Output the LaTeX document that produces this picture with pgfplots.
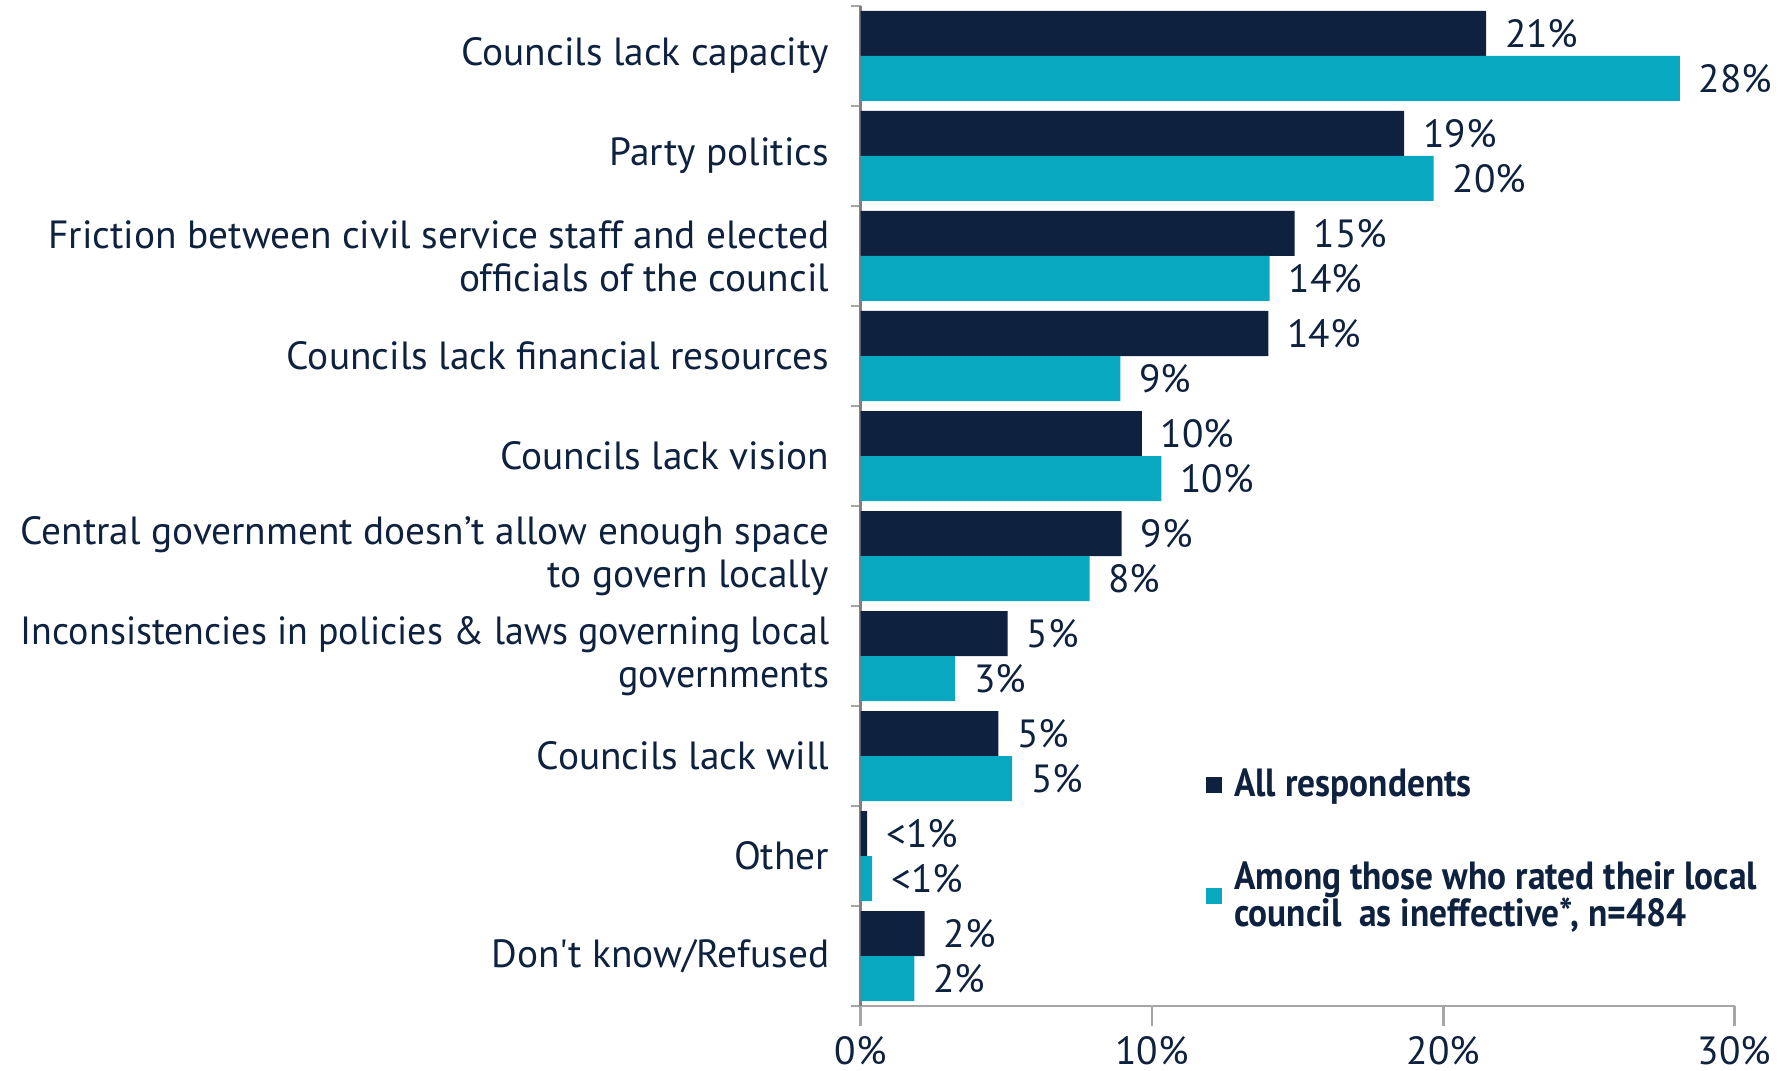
\documentclass[border=0pt]{standalone}
\usepackage{fontspec}
\setmainfont{PT Sans}
\newfontfamily\legfont[FakeStretch=0.9]{PT Sans}
\newfontfamily\narrowfont[FakeStretch=0.965]{PT Sans}
\usepackage{pgfplots}
\pgfplotsset{compat=1.18}
\usetikzlibrary{calc}
\definecolor{navy}{RGB}{14,34,64}
\definecolor{tealc}{RGB}{8,168,193}
\definecolor{axgray}{RGB}{166,166,166}
\definecolor{axdark}{RGB}{128,128,128}
\newcommand\lbl{\fontsize{11.8pt}{13pt}\selectfont}
\begin{document}
\begin{tikzpicture}[font=\lbl]
\begin{axis}[
  scale only axis, width=262.2pt, height=300pt,
  xbar, bar width=13.5pt,
  xmin=0, xmax=30, ymin=-0.5, ymax=9.5,
  clip=false,
  axis x line*=bottom, axis y line*=left,
  x axis line style={axgray, line width=0.8pt},
  y axis line style={axdark, line width=0.8pt},
  tick align=outside,
  xtick={0,10,20,30}, xticklabels={0\%,10\%,20\%,30\%},
  major x tick style={axgray, line width=0.8pt},
  major tick length=6pt,
  ytick={0,...,9},
  major y tick style={draw=none},
  minor ytick={-0.5,0.5,...,9.5},
  minor y tick style={axgray, line width=0.8pt},
  minor tick length=3pt,
  yticklabel style={align=right, text=navy, inner sep=0pt, xshift=-3.2pt, font=\lbl},
  xticklabel style={text=navy, inner sep=0pt, yshift=-2.8pt, font=\lbl},
  yticklabels={
    {Don\textquotesingle t know/Refused},
    {Other},
    {Councils lack will},
    {\narrowfont Inconsistencies in policies \& laws governing local\\\narrowfont governments},
    {Central government doesn’t allow enough space\\to govern locally},
    {Councils lack vision},
    {Councils lack financial resources},
    {Friction between civil service staff and elected\\officials of the council},
    {Party politics},
    {Councils lack capacity}},
  nodes near coords={\pgfplotspointmeta},
  point meta=explicit symbolic,
  every node near coord/.append style={text=navy, anchor=west, inner sep=0pt, xshift=5.5pt, font=\lbl},
  legend style={at={(rel axis cs:0.395,0.245)}, anchor=north west, draw=none, fill=none,
    inner sep=0pt, row sep=14pt, column sep=1.5pt,
    font=\legfont\fontsize{11.8pt}{11.3pt}\selectfont\bfseries, text=navy,
    cells={anchor=west, align=left}},
  legend image code/.code={\fill[#1] (0pt,-2.4pt) rectangle (4.8pt,2.4pt);},
]
\addplot[fill=navy, draw=none, bar shift=6.75pt] coordinates {
  (2.2,0) [2\%]
  (0.23,1) [<1\%]
  (4.73,2) [5\%]
  (5.05,3) [5\%]
  (8.96,4) [9\%]
  (9.66,5) [10\%]
  (14.0,6) [14\%]
  (14.9,7) [15\%]
  (18.66,8) [19\%]
  (21.47,9) [21\%]
};
\addlegendentry{All respondents}
\addplot[fill=tealc, draw=none, bar shift=-6.75pt] coordinates {
  (1.85,0) [2\%]
  (0.4,1) [<1\%]
  (5.2,2) [5\%]
  (3.25,3) [3\%]
  (7.86,4) [8\%]
  (10.33,5) [10\%]
  (8.92,6) [9\%]
  (14.04,7) [14\%]
  (19.67,8) [20\%]
  (28.12,9) [28\%]
};
\addlegendentry{Among those who rated their local\\council\ \ as ineffective*, n=484}
\coordinate (BL) at (rel axis cs:0,0);
\coordinate (TR) at (rel axis cs:1,1);
\end{axis}
\pgfresetboundingbox
\path ($(BL)+(-258.15pt,-19.2pt)$) rectangle ($(TR)+(15.72pt,1.8pt)$);
\end{tikzpicture}
\end{document}
